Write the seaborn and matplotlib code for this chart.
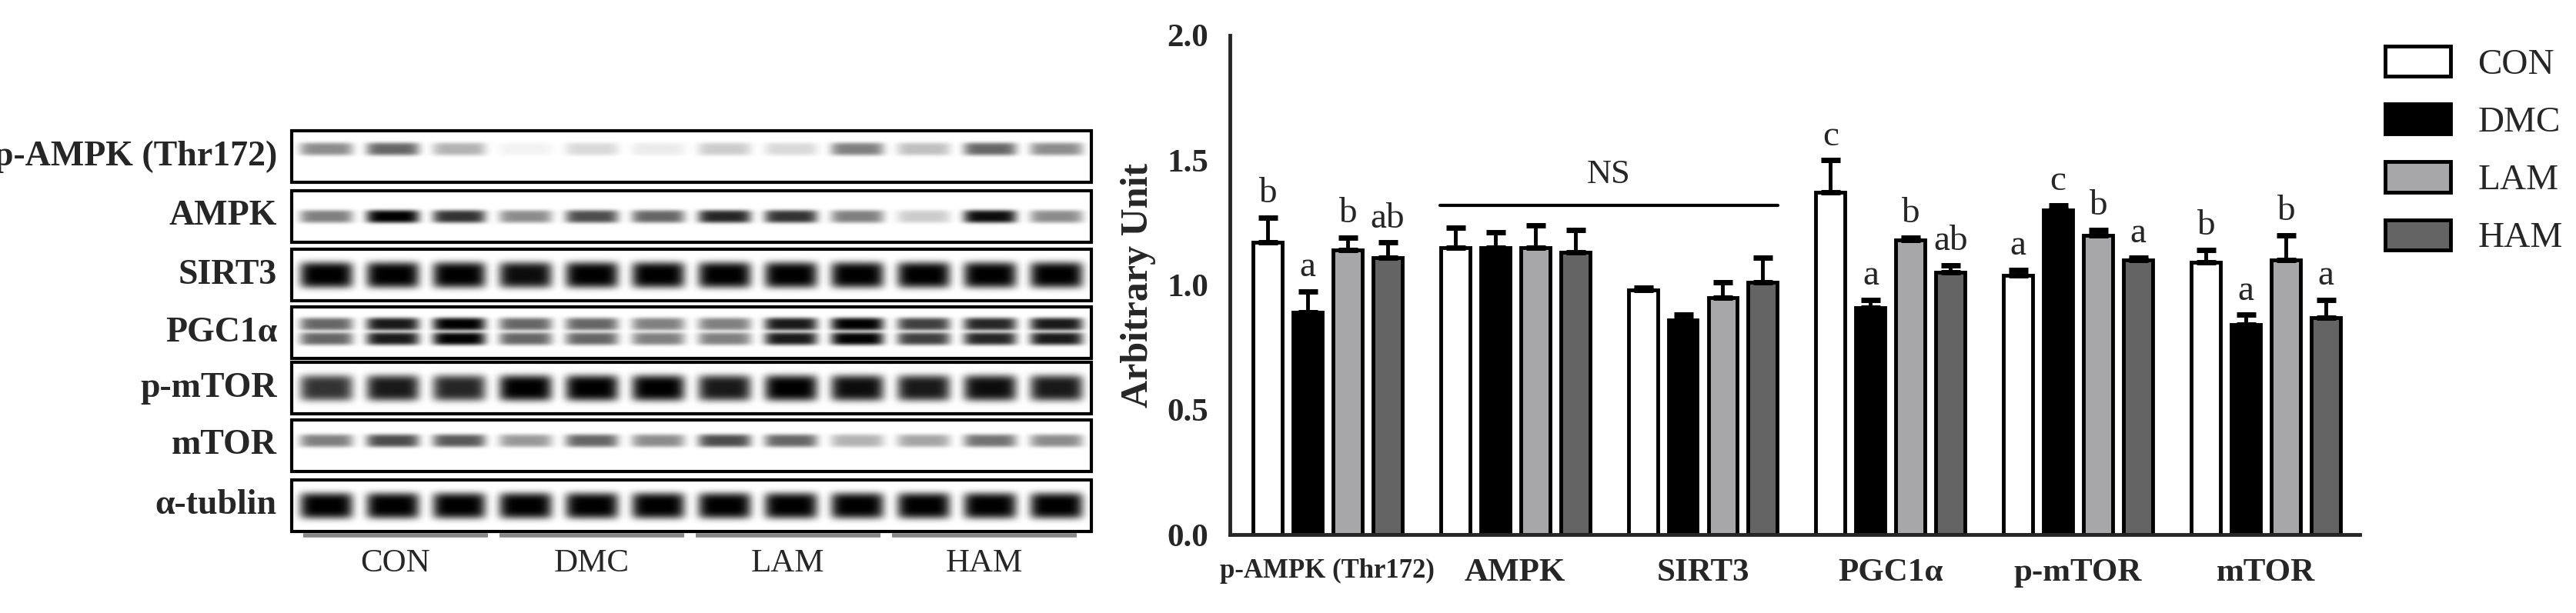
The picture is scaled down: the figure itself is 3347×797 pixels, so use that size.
import numpy as np
import pandas as pd
import matplotlib
matplotlib.use('Agg')
import matplotlib.pyplot as plt
import seaborn as sns

# bar chart data
proteins = ['p-AMPK (Thr172)', 'AMPK', 'SIRT3', 'PGC1α', 'p-mTOR', 'mTOR']
groups = ['CON', 'DMC', 'LAM', 'HAM']
con = [1.17, 1.15, 0.98, 1.37, 1.04, 1.09]
dmc = [0.89, 1.15, 0.86, 0.91, 1.30, 0.84]
lam = [1.14, 1.15, 0.95, 1.18, 1.20, 1.10]
ham = [1.11, 1.13, 1.01, 1.05, 1.10, 0.87]
con_err = [0.10, 0.08, 0.01, 0.13, 0.02, 0.05]
dmc_err = [0.085, 0.06, 0.02, 0.03, 0.02, 0.04]
lam_err = [0.05, 0.09, 0.06, 0.01, 0.02, 0.10]
ham_err = [0.06, 0.09, 0.10, 0.03, 0.01, 0.07]
con_sig = ['b', '', '', 'c', 'a', 'b']
dmc_sig = ['a', '', '', 'a', 'c', 'a']
lam_sig = ['b', '', '', 'b', 'b', 'b']
ham_sig = ['ab', '', '', 'ab', 'a', 'a']

# western blot band darkness (12 lanes, 3 per group)
blot_rows = ['p-AMPK (Thr172)', 'AMPK', 'SIRT3', 'PGC1α', 'p-mTOR', 'mTOR', 'α-tublin']
pampk_bands = [0.45, 0.6, 0.3, 0.05, 0.15, 0.08, 0.2, 0.15, 0.5, 0.25, 0.6, 0.45]
ampk_bands = [0.5, 1.0, 0.8, 0.45, 0.7, 0.6, 0.85, 0.8, 0.5, 0.2, 0.95, 0.45]
sirt3_bands = [1.0, 1.0, 1.0, 0.95, 1.0, 1.0, 1.0, 1.0, 1.0, 1.0, 1.0, 1.0]
pgc1a_bands = [0.6, 0.9, 1.0, 0.6, 0.6, 0.5, 0.5, 0.9, 1.0, 0.75, 0.85, 0.9]
pmtor_bands = [0.8, 0.9, 0.85, 1.0, 1.0, 1.0, 0.9, 1.0, 0.95, 0.9, 0.95, 0.9]
mtor_bands = [0.5, 0.7, 0.65, 0.4, 0.6, 0.45, 0.7, 0.6, 0.3, 0.35, 0.55, 0.45]
tubulin_bands = [1.0] * 12

vals = [con, dmc, lam, ham]
errs = [con_err, dmc_err, lam_err, ham_err]
sigs = [con_sig, dmc_sig, lam_sig, ham_sig]
colors = ['#ffffff', '#000000', '#a7a7aa', '#646464']

df = pd.DataFrame({
    'Protein': proteins * 4,
    'Group': [g for g in groups for _ in proteins],
    'Value': con + dmc + lam + ham,
})

sns.set_style('white')
plt.rcParams['font.family'] = ['Liberation Serif', 'DejaVu Serif']

W, H = 3348, 797
fig = plt.figure(figsize=(W / 100, H / 100), dpi=100)

# overlay axes in pixel coordinates for the blot panel
bg = fig.add_axes([0, 0, 1, 1])
bg.set_xlim(0, W)
bg.set_ylim(H, 0)
bg.axis('off')

band_sets = [pampk_bands, ampk_bands, sirt3_bands, pgc1a_bands, pmtor_bands, mtor_bands, tubulin_bands]
x0, x1 = 379, 1418
row_top = [170, 248, 324, 399, 471, 546, 624]
row_h = 67
nx, ny = 240, 40
xs = np.linspace(0, 12, nx)
ys = np.linspace(0, 1, ny)
for i, (name, bands) in enumerate(zip(blot_rows, band_sets)):
    img = np.zeros((ny, nx))
    centers = [0.35] if name == 'p-AMPK (Thr172)' else [0.5]
    if name == 'PGC1α':
        centers = [0.33, 0.62]
    if name == 'mTOR':
        centers = [0.4]
    for k, d in enumerate(bands):
        lx = np.exp(-((xs - (k + 0.5)) / 0.4) ** 6)
        for c in centers:
            thick = 0.26 if name in ('SIRT3', 'p-mTOR', 'α-tublin') else 0.13
            ly = np.exp(-((ys - c) / thick) ** 4)
            img = np.maximum(img, d * np.outer(ly, lx))
    top = row_top[i]
    bg.imshow(1 - img, cmap='gray', vmin=0, vmax=1, aspect='auto',
              extent=[x0, x1, top + row_h, top], interpolation='bilinear', zorder=1)
    bg.add_patch(plt.Rectangle((x0, top), x1 - x0, row_h, fill=False, lw=3, ec='black', zorder=2))
    bg.text(360, top + row_h / 2, name, ha='right', va='center', fontsize=33, fontweight='bold')

for j, g in enumerate(groups):
    a = 394 + j * 255
    bg.plot([a, a + 240], [696, 696], color='#888888', lw=4, solid_capstyle='butt')
    bg.text(a + 120, 733, g, ha='center', va='center', fontsize=31)

# bar chart
ax = fig.add_axes([1598 / W, (H - 695) / H, (3066 - 1598) / W, (695 - 46) / H])
sns.barplot(data=df, x='Protein', y='Value', hue='Group', order=proteins, hue_order=groups,
            palette=colors, width=0.852, gap=0.27, edgecolor='black', linewidth=3.5,
            errorbar=None, legend=False, ax=ax)

step = 0.213
for h in range(4):
    xpos = np.arange(len(proteins)) + (h - 1.5) * step
    ax.errorbar(xpos, vals[h], yerr=[np.zeros(len(proteins)), errs[h]], fmt='none',
                ecolor='black', elinewidth=3.5, capsize=9, capthick=5, zorder=3)
    for x, v, e, s in zip(xpos, vals[h], errs[h], sigs[h]):
        if s:
            ax.text(x, v + e + 0.03, s, ha='center', va='bottom', fontsize=34)

ax.plot([1 - 1.5 * step - 0.08, 2 + 1.5 * step + 0.08], [1.32, 1.32], color='black', lw=3)
ax.text(1.5, 1.38, 'NS', ha='center', va='bottom', fontsize=32)

ax.set_xlim(-0.52, 5.5)
ax.set_ylim(0, 2.0)
ax.set_yticks([0, 0.5, 1.0, 1.5, 2.0])
ax.set_yticklabels(['0.0', '0.5', '1.0', '1.5', '2.0'], fontsize=31, fontweight='bold')
ax.set_xticks(range(len(proteins)))
ax.set_xticklabels(proteins, fontweight='bold')
for lbl in ax.get_xticklabels():
    lbl.set_fontsize(25 if lbl.get_text().startswith('p-AMPK') else 31)
ax.set_xlabel('')
ax.set_ylabel('Arbitrary Unit', fontsize=36, fontweight='bold', labelpad=10)
ax.tick_params(axis='both', direction='out', length=14, width=3.5, pad=6)
ax.tick_params(axis='x', pad=8)
for side in ['top', 'right']:
    ax.spines[side].set_visible(False)
for side in ['left', 'bottom']:
    ax.spines[side].set_linewidth(3.5)

handles = [plt.Rectangle((0, 0), 1, 1, fc=c, ec='black', lw=3.5) for c in colors]
fig.legend(handles, groups, loc='upper left', bbox_to_anchor=(3099 / W, (H - 60) / H),
           frameon=False, fontsize=34, handlelength=1.8, handleheight=0.9,
           labelspacing=0.62, handletextpad=0.75, borderpad=0, borderaxespad=0)

fig.savefig('out.png', dpi=100)
